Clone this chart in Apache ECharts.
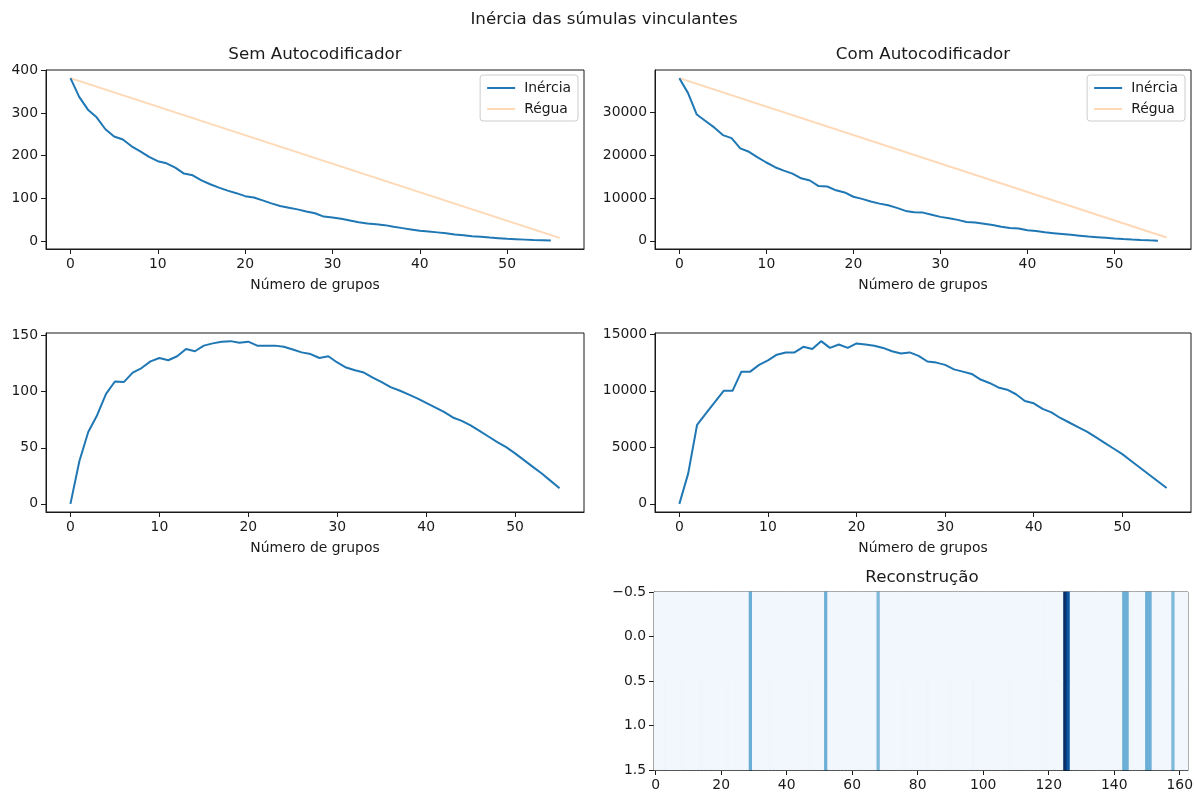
<!DOCTYPE html>
<html>
<head>
<meta charset="utf-8">
<script src="https://cdn.jsdelivr.net/npm/echarts@6/dist/echarts.min.js"></script>
<style>
  html, body { margin: 0; padding: 0; background: #fff; }
  #chart { width: 1196px; height: 794px; }
</style>
</head>
<body>
<div id="chart"></div>
<script>
// ---- data ----
const grupos = [0,1,2,3,4,5,6,7,8,9,10,11,12,13,14,15,16,17,18,19,20,21,22,23,24,25,26,27,
  28,29,30,31,32,33,34,35,36,37,38,39,40,41,42,43,44,45,46,47,48,49,50,51,52,53,54,55];

// inertia without the autoencoder
const inerciaSem = [382,338,308,290,262,245,238,222,210,197,187,182,172,158,154,142,133,125,118,112,
  105,102,95,88,82,78,74,69,65,57,55,52,48,44,41,39,37,33,30,27,
  24,22,20,18,15,13,11,10,8,6.5,5,4,3,2,1.5,1];
// inertia with the autoencoder
const inerciaCom = [38000,34500,29500,28000,26500,24700,24000,21600,20800,19500,18300,17200,16400,15700,14600,14100,
  12800,12700,11800,11300,10300,9800,9200,8700,8300,7700,7000,6700,6600,6100,5600,5300,
  4900,4400,4300,4000,3700,3300,3000,2900,2500,2300,2000,1800,1600,1400,1200,1000,
  850,700,550,420,300,200,120,50];

// straight reference line ("Régua")
const reguaX = [0, 56];
const reguaSem = [382, 7];
const reguaCom = [38000, 780];

// distance between ruler and inertia curve
const distSem = [0,38,64,79,98,109,108.5,117,121,127,130,128,131.5,138,136,141,143,144.5,145,143.5,
  144.5,141,141,141,140,137.5,135,133.5,130,131.5,126,121.5,119,117,112.5,108.5,104,101,97.5,94,
  90,86,82,77,74,70,65,60,55,50.5,45,39,33,27,20.5,14];
const distCom = [0,2700,7000,8000,9000,10000,10000,11700,11700,12300,12700,13200,13400,13400,13900,13700,
  14400,13800,14100,13800,14200,14100,14000,13800,13500,13300,13400,13100,12600,12500,12300,11900,
  11700,11500,11000,10700,10300,10100,9700,9100,8900,8400,8100,7600,7200,6800,6400,5900,
  5400,4900,4400,3800,3200,2600,2000,1400];

// reconstruction matrix: 2 rows x 163 columns
const reconCols = 163;
const reconBase = 0.03;
const picoCols = [29, 52, 68, 125, 126, 143, 144, 150, 151, 158];
const picoVals = [0.5, 0.5, 0.45, 1.0, 0.85, 0.5, 0.5, 0.5, 0.5, 0.45];
// faint differences in the second row
const leveCols = [3, 8, 14, 22, 35, 47, 76, 83, 90, 97, 108, 118];
const leveVals = [0.045, 0.04, 0.045, 0.04, 0.045, 0.04, 0.04, 0.045, 0.04, 0.045, 0.04, 0.04];

// tick labels
const ticksX = [0, 10, 20, 30, 40, 50];
const ticksSem = [0, 100, 200, 300, 400];
const ticksCom = [0, 10000, 20000, 30000];
const ticksDistSem = [0, 50, 100, 150];
const ticksDistCom = [0, 5000, 10000, 15000];
const ticksReconX = [0, 20, 40, 60, 80, 100, 120, 140, 160];
const ticksReconY = [-0.5, 0, 0.5, 1.0, 1.5];

// ---- helpers ----
const FONT = 'DejaVu Sans';
const BLUE = '#1f77b4';
const ORANGE = 'rgba(255,127,14,0.3)';
const INK = '#1a1a1a';
const TICK_PX = 13.9;
const TITLE_PX = 16.7;

const pairs = (xs, ys) => ys.map((v, i) => [xs[i], v]);
const plain = v => String(v);

function valueAxis(gridIndex, min, max, ticks, extra, fmt) {
  return Object.assign({
    type: 'value', gridIndex, min, max, scale: true,
    axisLine: { show: true, onZero: false, lineStyle: { color: INK, width: 1 } },
    axisTick: { show: true, length: 5, customValues: ticks, lineStyle: { color: INK, width: 1 } },
    axisLabel: { customValues: ticks, color: INK, fontFamily: FONT, fontSize: TICK_PX, margin: 8, formatter: fmt || plain },
    splitLine: { show: false }
  }, extra || {});
}

const xName = {
  name: 'Número de grupos', nameLocation: 'middle', nameGap: 29,
  nameTextStyle: { color: INK, fontFamily: FONT, fontSize: TICK_PX }
};

const grids = [
  { left: 46, top: 70, width: 538, height: 179 },
  { left: 655, top: 70, width: 536, height: 179 },
  { left: 46, top: 333, width: 538, height: 179 },
  { left: 655, top: 333, width: 536, height: 179 },
  { left: 654, top: 592, width: 537, height: 178 }
].map(g => Object.assign(g, { show: true, borderColor: INK, borderWidth: 1, backgroundColor: 'transparent' }));

// heatmap cells
const reconData = [];
for (let r = 0; r < 2; r++) {
  for (let c = 0; c < reconCols; c++) {
    let v = reconBase;
    const pi = picoCols.indexOf(c);
    if (pi >= 0) v = picoVals[pi];
    else if (r === 1) {
      const li = leveCols.indexOf(c);
      if (li >= 0) v = leveVals[li];
    }
    reconData.push([c, r, v]);
  }
}
const reconXCats = Array.from({ length: reconCols }, (_, i) => String(i));

const legendBase = {
  orient: 'vertical', top: 75, icon: 'rect', itemWidth: 28, itemHeight: 2, itemGap: 7,
  padding: [6, 7, 5, 7],
  backgroundColor: 'rgba(255,255,255,0.8)', borderColor: '#cccccc', borderWidth: 1, borderRadius: 3,
  textStyle: { color: INK, fontFamily: FONT, fontSize: TICK_PX, padding: [0, 0, 0, 4] },
  data: ['Inércia', 'Régua']
};

const titleFont = `${TITLE_PX}px "${FONT}"`;
const graphics = [
  { type: 'text', x: 604, y: 20, style: { text: 'Inércia das súmulas vinculantes', font: titleFont, fill: INK, align: 'center', verticalAlign: 'middle' } },
  { type: 'text', x: 315, y: 55, style: { text: 'Sem Autocodificador', font: titleFont, fill: INK, align: 'center', verticalAlign: 'middle' } },
  { type: 'text', x: 923, y: 55, style: { text: 'Com Autocodificador', font: titleFont, fill: INK, align: 'center', verticalAlign: 'middle' } },
  { type: 'text', x: 922, y: 578, style: { text: 'Reconstrução', font: titleFont, fill: INK, align: 'center', verticalAlign: 'middle' } }
];

const option = {
  animation: false,
  backgroundColor: '#fff',
  textStyle: { fontFamily: FONT },
  grid: grids,
  graphic: graphics,
  legend: [
    Object.assign({}, legendBase, { right: 1196 - 578 }),
    Object.assign({}, legendBase, { right: 1196 - 1185 })
  ],
  visualMap: {
    show: false, type: 'continuous', min: 0, max: 1, seriesIndex: 6,
    inRange: { color: ['#f7fbff', '#deebf7', '#c6dbef', '#9ecae1', '#6baed6', '#4292c6', '#2171b5', '#08519c', '#08306b'] }
  },
  xAxis: [
    valueAxis(0, -2.8, 58.8, ticksX, xName),
    valueAxis(1, -2.8, 58.8, ticksX, xName),
    valueAxis(2, -2.75, 57.75, ticksX, xName),
    valueAxis(3, -2.75, 57.75, ticksX, xName),
    { type: 'category', gridIndex: 4, data: reconXCats, show: false, boundaryGap: true, position: 'bottom' },
    valueAxis(4, -0.5, reconCols - 0.5, ticksReconX, { position: 'bottom' })
  ],
  yAxis: [
    valueAxis(0, -19, 401, ticksSem),
    valueAxis(1, -1900, 39900, ticksCom),
    valueAxis(2, -7.25, 152.25, ticksDistSem),
    valueAxis(3, -720, 15120, ticksDistCom),
    { type: 'category', gridIndex: 4, data: ['0', '1'], inverse: true, show: false, boundaryGap: true, position: 'left' },
    valueAxis(4, -0.5, 1.5, ticksReconY, { inverse: true, position: 'left' },
      v => (v < 0 ? '\u2212' : '') + Math.abs(v).toFixed(1))
  ],
  series: [
    { name: 'Inércia', type: 'line', xAxisIndex: 0, yAxisIndex: 0, data: pairs(grupos, inerciaSem),
      symbol: 'none', lineStyle: { color: BLUE, width: 2 }, itemStyle: { color: BLUE }, z: 3 },
    { name: 'Régua', type: 'line', xAxisIndex: 0, yAxisIndex: 0, data: pairs(reguaX, reguaSem),
      symbol: 'none', lineStyle: { color: ORANGE, width: 2 }, itemStyle: { color: ORANGE }, z: 2 },
    { name: 'Inércia', type: 'line', xAxisIndex: 1, yAxisIndex: 1, data: pairs(grupos, inerciaCom),
      symbol: 'none', lineStyle: { color: BLUE, width: 2 }, itemStyle: { color: BLUE }, z: 3 },
    { name: 'Régua', type: 'line', xAxisIndex: 1, yAxisIndex: 1, data: pairs(reguaX, reguaCom),
      symbol: 'none', lineStyle: { color: ORANGE, width: 2 }, itemStyle: { color: ORANGE }, z: 2 },
    { name: 'distSem', type: 'line', xAxisIndex: 2, yAxisIndex: 2, data: pairs(grupos, distSem),
      symbol: 'none', lineStyle: { color: BLUE, width: 2 } },
    { name: 'distCom', type: 'line', xAxisIndex: 3, yAxisIndex: 3, data: pairs(grupos, distCom),
      symbol: 'none', lineStyle: { color: BLUE, width: 2 } },
    { name: 'Reconstrução', type: 'heatmap', xAxisIndex: 4, yAxisIndex: 4, data: reconData,
      itemStyle: { borderWidth: 0 }, emphasis: { disabled: true } }
  ]
};

const chart = echarts.init(document.getElementById('chart'), null, { renderer: 'canvas' });
chart.setOption(option);
</script>
</body>
</html>
